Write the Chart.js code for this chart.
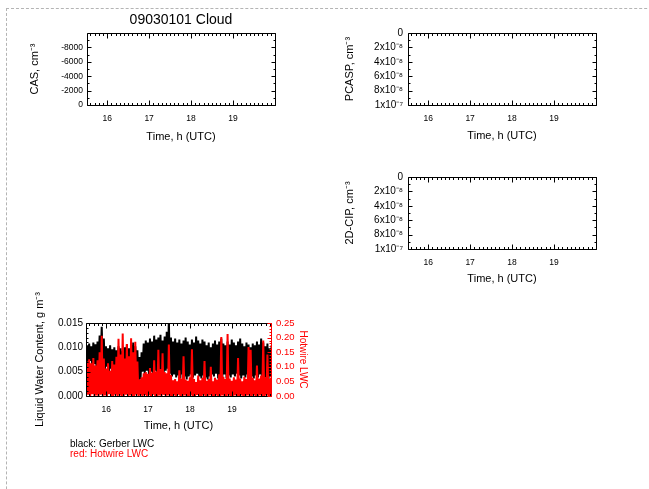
<!DOCTYPE html>
<html>
<head>
<meta charset="utf-8">
<script src="https://cdn.jsdelivr.net/npm/chart.js@4.4.0/dist/chart.umd.min.js"></script>
<style>
  html, body { margin: 0; padding: 0; background: #fff; }
  #page { position: relative; width: 649px; height: 489px; overflow: hidden; background: #fff; }
  #page canvas { position: absolute; left: 0; top: 0; }
  .frame { position: absolute; left: 6px; top: 8px; width: 700px; height: 600px;
           border-top: 1px dashed #b4b4b4; border-left: 1px dashed #b4b4b4; }
  .note { position: absolute; left: 70px; font: 10px 'Liberation Sans', Arial, sans-serif;
          line-height: 10px; white-space: nowrap; }
</style>
</head>
<body>
<div id="page">
  <div class="frame"></div>
  <canvas id="casChart" width="649" height="489"></canvas>
  <canvas id="pcaspChart" width="649" height="489"></canvas>
  <canvas id="cipChart" width="649" height="489"></canvas>
  <canvas id="lwcChart" width="649" height="489"></canvas>
  <div class="note" style="top:439px; color:#000;">black: Gerber LWC</div>
  <div class="note" style="top:449px; color:#f00;">red: Hotwire LWC</div>
</div>
<script>
// Flight 09030101, cloud segment
const timeTicks = [16, 17, 18, 19];

// Particle probes had no valid samples in this segment
const casConc = [];
const casTicks = [0, -2000, -4000, -6000, -8000];
const pcaspConc = [];
const pcaspTicks = [0, 2e-8, 4e-8, 6e-8, 8e-8, 1e-7];
const cipConc = [];
const cipTicks = [0, 2e-8, 4e-8, 6e-8, 8e-8, 1e-7];

// Liquid water content, min/max per 3-minute bin starting at 15.52 h
const binStart = 15.52;
const binWidth = 0.05;
const lwcTicks = [0, 0.005, 0.010, 0.015];
const hotwireTicks = [0, 0.05, 0.10, 0.15, 0.20, 0.25];

const gerberLo = [
  0.0070, 0.0064, 0.0072, 0.0060, 0.0066, 0.0058, 0.0070, 0.0076, 0.0062, 0.0054,
  0.0060, 0.0050, 0.0056, 0.0048, 0.0052, 0.0046, 0.0054, 0.0050, 0.0044, 0.0052,
  0.0048, 0.0056, 0.0050, 0.0046, 0.0040, 0.0026, 0.0034, 0.0050, 0.0046, 0.0052,
  0.0044, 0.0050, 0.0046, 0.0052, 0.0044, 0.0048, 0.0050, 0.0046, 0.0052, 0.0056,
  0.0046, 0.0040, 0.0044, 0.0038, 0.0042, 0.0036, 0.0044, 0.0040, 0.0034, 0.0040,
  0.0044, 0.0038, 0.0042, 0.0046, 0.0040, 0.0036, 0.0042, 0.0038, 0.0034, 0.0040,
  0.0044, 0.0040, 0.0046, 0.0036, 0.0042, 0.0038, 0.0044, 0.0036, 0.0042, 0.0038,
  0.0044, 0.0040, 0.0046, 0.0042, 0.0036, 0.0042, 0.0038, 0.0044, 0.0034, 0.0040,
  0.0036, 0.0042, 0.0038, 0.0044, 0.0040, 0.0034, 0.0038, 0.0032, 0.0040
];
const gerberHi = [
  0.0104, 0.0108, 0.0102, 0.0110, 0.0106, 0.0112, 0.0124, 0.0142, 0.0118, 0.0102,
  0.0098, 0.0104, 0.0096, 0.0100, 0.0094, 0.0102, 0.0098, 0.0092, 0.0100, 0.0106,
  0.0098, 0.0104, 0.0110, 0.0102, 0.0094, 0.0080, 0.0090, 0.0108, 0.0114, 0.0110,
  0.0118, 0.0112, 0.0124, 0.0116, 0.0120, 0.0126, 0.0114, 0.0122, 0.0132, 0.0156,
  0.0120, 0.0112, 0.0118, 0.0110, 0.0116, 0.0108, 0.0114, 0.0120, 0.0112, 0.0106,
  0.0116, 0.0110, 0.0122, 0.0114, 0.0108, 0.0116, 0.0112, 0.0104, 0.0110, 0.0100,
  0.0108, 0.0114, 0.0106, 0.0112, 0.0118, 0.0108, 0.0104, 0.0112, 0.0106, 0.0116,
  0.0110, 0.0104, 0.0112, 0.0118, 0.0108, 0.0102, 0.0110, 0.0106, 0.0100, 0.0108,
  0.0104, 0.0112, 0.0106, 0.0118, 0.0110, 0.0102, 0.0108, 0.0098, 0.0104
];
const hotwireLo = [
  0.000, 0.004, 0.000, 0.006, 0.000, 0.002, 0.000, 0.004, 0.000, 0.002,
  0.000, 0.006, 0.000, 0.000, 0.004, 0.000, 0.002, 0.000, 0.000, 0.004,
  0.000, 0.002, 0.000, 0.000, 0.004, 0.000, 0.002, 0.000, 0.004, 0.000,
  0.002, 0.000, 0.004, 0.000, 0.000, 0.002, 0.000, 0.004, 0.000, 0.002,
  0.000, 0.000, 0.002, 0.000, 0.004, 0.000, 0.000, 0.002, 0.000, 0.000,
  0.002, 0.000, 0.000, 0.004, 0.000, 0.000, 0.002, 0.000, 0.000, 0.002,
  0.000, 0.000, 0.002, 0.000, 0.000, 0.002, 0.000, 0.000, 0.002, 0.000,
  0.000, 0.002, 0.000, 0.000, 0.002, 0.000, 0.000, 0.002, 0.000, 0.000,
  0.002, 0.000, 0.000, 0.002, 0.000, 0.000, 0.002, 0.000, 0.000
];
const hotwireHi = [
  0.118, 0.126, 0.112, 0.130, 0.104, 0.122, 0.150, 0.206, 0.128, 0.094,
  0.112, 0.086, 0.120, 0.108, 0.134, 0.196, 0.142, 0.214, 0.128, 0.178,
  0.136, 0.198, 0.150, 0.186, 0.118, 0.056, 0.064, 0.078, 0.082, 0.076,
  0.096, 0.080, 0.122, 0.084, 0.158, 0.092, 0.146, 0.082, 0.078, 0.176,
  0.072, 0.054, 0.058, 0.050, 0.088, 0.060, 0.136, 0.056, 0.052, 0.064,
  0.160, 0.058, 0.048, 0.070, 0.054, 0.062, 0.120, 0.052, 0.058, 0.100,
  0.050, 0.062, 0.056, 0.074, 0.202, 0.066, 0.058, 0.212, 0.060, 0.052,
  0.064, 0.056, 0.130, 0.060, 0.050, 0.066, 0.058, 0.168, 0.158, 0.062,
  0.054, 0.104, 0.060, 0.070, 0.190, 0.064, 0.142, 0.058, 0.066
];

const FONT = "'Liberation Sans', Arial, Helvetica, sans-serif";
Chart.defaults.font.family = FONT;
Chart.defaults.color = '#000';
Chart.defaults.animation = false;

// each bin drawn as a low/high zigzag, like the raw 1 Hz trace
function zigzag(lo, hi) {
  const pts = [];
  lo.forEach((v, i) => {
    const t = binStart + i * binWidth;
    pts.push({ x: t, y: v });
    pts.push({ x: t + binWidth / 2, y: hi[i] });
  });
  return pts;
}

const SUP = { '-': '\u207B', '0': '\u2070', '1': '\u00B9', '2': '\u00B2', '3': '\u00B3',
  '4': '\u2074', '5': '\u2075', '6': '\u2076', '7': '\u2077', '8': '\u2078', '9': '\u2079' };
function sciLabel(v) {
  if (v === 0) return '0';
  const e = Math.floor(Math.log10(Math.abs(v)) + 1e-9);
  const m = Math.round(v / Math.pow(10, e));
  return m + 'x10' + String(e).split('').map(c => SUP[c]).join('');
}

function minorValues(scale, step) {
  const lo = Math.min(scale.min, scale.max), hi = Math.max(scale.min, scale.max);
  const out = [];
  for (let k = Math.ceil(lo / step - 1e-6); k * step <= hi + step * 1e-6; k++) out.push(k * step);
  return out;
}

// box frame with inward ticks on all four sides
const idlFrame = {
  id: 'idlFrame',
  afterDatasetsDraw(chart, args, o) {
    const { ctx, chartArea: a, scales } = chart;
    const px = v => Math.round(v) + 0.5;
    const L = px(a.left), R = px(a.right), T = px(a.top), B = px(a.bottom);
    ctx.save();
    ctx.lineWidth = 1;
    ctx.strokeStyle = '#000';
    ctx.beginPath();
    const xs = scales.x;
    minorValues(xs, o.xMinor).forEach(v => {
      const p = px(xs.getPixelForValue(v));
      ctx.moveTo(p, B); ctx.lineTo(p, B - 2.5);
      ctx.moveTo(p, T); ctx.lineTo(p, T + 2.5);
    });
    xs.ticks.forEach(t => {
      const p = px(xs.getPixelForValue(t.value));
      ctx.moveTo(p, B); ctx.lineTo(p, B - 5);
      ctx.moveTo(p, T); ctx.lineTo(p, T + 5);
    });
    const ys = scales.y;
    const mirror = !scales.y2;
    minorValues(ys, o.yMinor).forEach(v => {
      const p = px(ys.getPixelForValue(v));
      ctx.moveTo(L, p); ctx.lineTo(L + 2, p);
      if (mirror) { ctx.moveTo(R, p); ctx.lineTo(R - 2, p); }
    });
    ys.ticks.forEach(t => {
      const p = px(ys.getPixelForValue(t.value));
      ctx.moveTo(L, p); ctx.lineTo(L + 4, p);
      if (mirror) { ctx.moveTo(R, p); ctx.lineTo(R - 4, p); }
    });
    ctx.moveTo(R, T); ctx.lineTo(L, T); ctx.lineTo(L, B); ctx.lineTo(R, B);
    if (mirror) ctx.lineTo(R, T);
    ctx.stroke();

    if (scales.y2) {
      const y2 = scales.y2;
      ctx.strokeStyle = '#ff0000';
      ctx.beginPath();
      minorValues(y2, o.y2Minor).forEach(v => {
        const p = px(y2.getPixelForValue(v));
        ctx.moveTo(R, p); ctx.lineTo(R - 2, p);
      });
      y2.ticks.forEach(t => {
        const p = px(y2.getPixelForValue(t.value));
        ctx.moveTo(R, p); ctx.lineTo(R - 4, p);
      });
      ctx.moveTo(R, B); ctx.lineTo(R, T);
      ctx.stroke();
    }
    ctx.restore();
  }
};

function fixedTicks(values) {
  return scale => { scale.ticks = values.map(v => ({ value: v })); };
}

function xScale(min, max, height) {
  return {
    type: 'linear', min: min, max: max,
    grid: { display: false, drawTicks: false }, border: { display: false },
    afterBuildTicks: fixedTicks(timeTicks),
    afterFit: s => { s.height = height; },
    ticks: { font: { size: 8.5 }, padding: 9, maxRotation: 0, autoSkip: false,
             callback: v => String(v) },
    title: { display: true, text: 'Time, h (UTC)', font: { size: 11 }, padding: 0 }
  };
}

function yScale(opts) {
  return {
    type: 'linear', position: opts.position || 'left',
    min: opts.min, max: opts.max, reverse: !!opts.reverse,
    grid: { display: false, drawTicks: false }, border: { display: false },
    afterBuildTicks: fixedTicks(opts.ticks),
    afterFit: s => { s.width = opts.width; },
    ticks: { font: { size: opts.fontSize }, padding: opts.pad, color: opts.color || '#000',
             autoSkip: false, callback: opts.format },
    title: { display: true, text: opts.title, color: opts.color || '#000',
             font: { size: opts.titleSize || 11 }, padding: 0 }
  };
}

function emptyPanel(id, data, yOpts, pad, xHeight, frameOpts) {
  return new Chart(document.getElementById(id), {
    type: 'line',
    data: { datasets: [{ data: data, borderColor: '#000', borderWidth: 1, pointRadius: 0 }] },
    options: {
      responsive: false,
      layout: { padding: pad },
      plugins: { legend: { display: false }, tooltip: { enabled: false }, idlFrame: frameOpts },
      scales: { x: xScale(15.52, 20.0, xHeight), y: yScale(yOpts) }
    },
    plugins: [idlFrame]
  });
}

// CAS
const casChart = new Chart(document.getElementById('casChart'), {
  type: 'line',
  data: { datasets: [{ data: casConc, borderColor: '#000', borderWidth: 1, pointRadius: 0 }] },
  options: {
    responsive: false,
    layout: { padding: { left: 28, top: 0, right: 374, bottom: 345 } },
    plugins: {
      legend: { display: false }, tooltip: { enabled: false },
      title: { display: true, text: '09030101 Cloud', fullSize: false,
               font: { size: 14, weight: 'normal' }, padding: { top: 12, bottom: 4.2 } },
      idlFrame: { xMinor: 0.1, yMinor: 1000 }
    },
    scales: {
      x: xScale(15.52, 20.0, 39),
      y: yScale({ min: -10000, max: 0, reverse: true, ticks: casTicks, width: 59, fontSize: 8.5,
                  pad: 4, title: 'CAS, cm\u207B\u00B3', format: v => String(v) })
    }
  },
  plugins: [idlFrame]
});

// PCASP
emptyPanel('pcaspChart', pcaspConc,
  { min: 0, max: 1e-7, reverse: true, ticks: pcaspTicks, width: 65, fontSize: 10, pad: 5,
    title: 'PCASP, cm\u207B\u00B3', format: sciLabel },
  { left: 343, top: 33, right: 53, bottom: 346 }, 38,
  { xMinor: 0.1, yMinor: 1e-8 });

// 2D-CIP
emptyPanel('cipChart', cipConc,
  { min: 0, max: 1e-7, reverse: true, ticks: cipTicks, width: 65, fontSize: 10, pad: 5,
    title: '2D-CIP, cm\u207B\u00B3', format: sciLabel },
  { left: 343, top: 177, right: 53, bottom: 203 }, 37,
  { xMinor: 0.1, yMinor: 1e-8 });

// Gerber (black) and hotwire (red) liquid water content
const lwcChart = new Chart(document.getElementById('lwcChart'), {
  type: 'line',
  data: {
    datasets: [
      { label: 'Hotwire LWC', data: zigzag(hotwireLo, hotwireHi), yAxisID: 'y2',
        borderColor: '#ff0000', borderWidth: 2, pointRadius: 0, tension: 0 },
      { label: 'Gerber LWC', data: zigzag(gerberLo, gerberHi), yAxisID: 'y',
        borderColor: '#000000', borderWidth: 2, pointRadius: 0, tension: 0 }
    ]
  },
  options: {
    responsive: false,
    layout: { padding: { left: 33, top: 323, right: 340, bottom: 56 } },
    plugins: {
      legend: { display: false }, tooltip: { enabled: false },
      idlFrame: { xMinor: 0.1, yMinor: 0.001, y2Minor: 0.01 }
    },
    scales: {
      x: xScale(15.52, 19.93, 37),
      y: yScale({ min: 0, max: 0.015, ticks: lwcTicks, width: 53, fontSize: 10, pad: 3,
                  title: 'Liquid Water Content, g m\u207B\u00B3', format: v => v.toFixed(3) }),
      y2: yScale({ position: 'right', min: 0, max: 0.25, ticks: hotwireTicks, width: 38,
                   fontSize: 9.5, pad: 5, color: '#ff0000', titleSize: 10,
                   title: 'Hotwire LWC', format: v => v.toFixed(2) })
    }
  },
  plugins: [idlFrame]
});
</script>
</body>
</html>
